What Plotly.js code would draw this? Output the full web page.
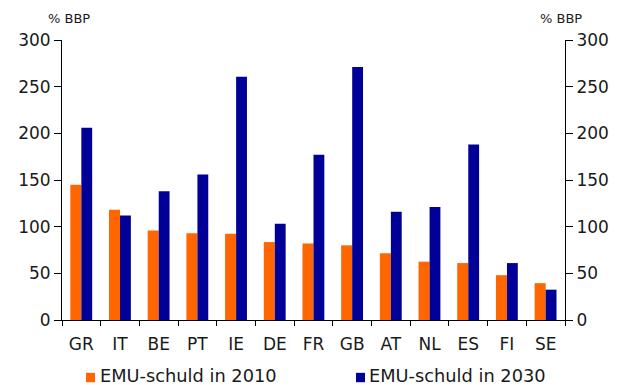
<!DOCTYPE html>
<html><head><meta charset="utf-8">
<script src="https://cdn.plot.ly/plotly-3.0.1.min.js"></script>
<style>body{margin:0;padding:0;background:#fff}#chart{width:618px;height:385px}</style>
</head><body><div id="chart"></div>
<script>
const categories = ["GR","IT","BE","PT","IE","DE","FR","GB","AT","NL","ES","FI","SE"];
const debt2010 = [145,118,96,93,92.5,83.5,82,80,71.5,62.5,61,48,39.5];
const debt2030 = [206,112,138,156,260.5,103,177,271,116,121,188,61,32.5];
const seriesNames = ["EMU-schuld in 2010","EMU-schuld in 2030"];
const seriesColors = ["#FF6600","#000099"];
const unitLabel = "% BBP";
const yTicks = [0,50,100,150,200,250,300];

const FONT = "DejaVu Sans, Verdana, sans-serif";
const TXT = "#1a1a1a";

const data = [
  {type:"bar", x:categories, y:debt2010, name:seriesNames[0], yaxis:"y", showlegend:false,
   marker:{color:seriesColors[0]}, width:0.285, offset:-0.285, hoverinfo:"skip"},
  {type:"bar", x:categories, y:debt2030, name:seriesNames[1], yaxis:"y2", showlegend:false,
   marker:{color:seriesColors[1]}, width:0.28, offset:0, hoverinfo:"skip"}
];

const yCommon = {range:[0,300], tickvals:yTicks, ticks:"outside", ticklen:7, tickcolor:"#000",
  showline:true, linecolor:"#000", linewidth:1, showgrid:false, zeroline:false,
  tickfont:{family:FONT, size:17, color:TXT}, fixedrange:true};

// custom legend (paper coords relative to plot area)
const legendItems = [
  {sq:[0.0477,0.0656], tx:0.073},
  {sq:[0.5845,0.6024], tx:0.6083}
];
const shapes = legendItems.map((it,i)=>({type:"rect", xref:"paper", yref:"paper",
  x0:it.sq[0], x1:it.sq[1], y0:-0.2222, y1:-0.1887, fillcolor:seriesColors[i], line:{width:0}}));
const legendAnn = legendItems.map((it,i)=>({text:seriesNames[i], xref:"paper", yref:"paper",
  x:it.tx, y:-0.199, xanchor:"left", yanchor:"middle", showarrow:false, borderpad:0,
  font:{family:FONT, size:17.8, color:TXT}}));

const layout = {
  width:618, height:385,
  margin:{l:62, r:53, t:40, b:65, pad:0},
  paper_bgcolor:"#fff", plot_bgcolor:"#fff",
  font:{family:FONT, color:TXT},
  barmode:"overlay",
  showlegend:false,
  xaxis:{type:"category", ticks:"outside", tickson:"boundaries", ticklen:5, tickcolor:"#000",
    showline:true, linecolor:"#000", linewidth:1, showgrid:false, zeroline:false,
    ticklabelstandoff:9,
    tickfont:{family:FONT, size:17, color:TXT}, range:[-0.5,12.5]},
  yaxis:Object.assign({}, yCommon, {side:"left"}),
  yaxis2:Object.assign({}, yCommon, {side:"right", overlaying:"y", anchor:"x"}),
  shapes:shapes,
  annotations:[
    {text:unitLabel, xref:"paper", yref:"paper", x:0, y:1, xanchor:"center", yanchor:"bottom",
     xshift:7, yshift:12, showarrow:false, font:{family:FONT, size:13, color:TXT}},
    {text:unitLabel, xref:"paper", yref:"paper", x:1, y:1, xanchor:"center", yanchor:"bottom",
     xshift:-4, yshift:12, showarrow:false, font:{family:FONT, size:13, color:TXT}}
  ].concat(legendAnn)
};

Plotly.newPlot("chart", data, layout, {staticPlot:true, displayModeBar:false});
</script></body></html>
